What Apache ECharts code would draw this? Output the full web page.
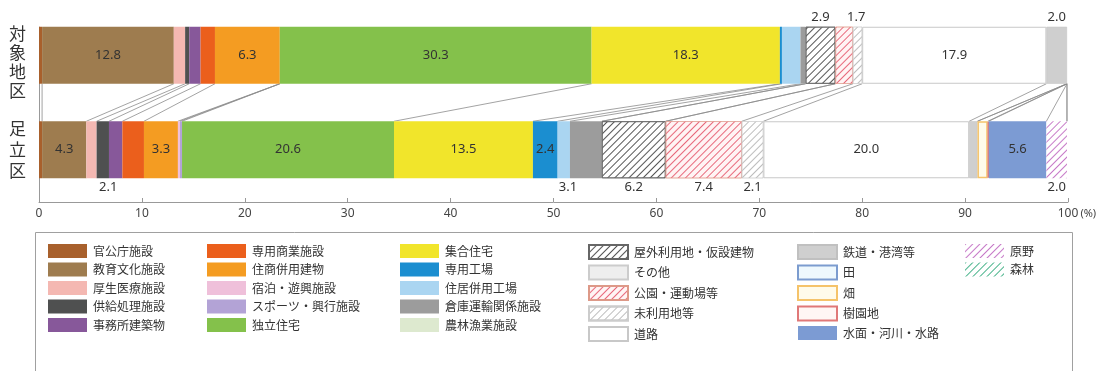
<!DOCTYPE html>
<html>
<head>
<meta charset="utf-8">
<script src="https://cdn.jsdelivr.net/npm/echarts@6.0.0/dist/echarts.min.js"></script>
<style>
html,body{margin:0;padding:0;background:#fff;}
#c{width:1100px;height:371px;}
</style>
</head>
<body>
<div id="c"></div>
<script>
// ---- data ----
var regions = ['足立区', '対象地区'];
var categories = ['官公庁施設','教育文化施設','厚生医療施設','供給処理施設','事務所建築物',
  '専用商業施設','住商併用建物','宿泊・遊興施設','スポーツ・興行施設','独立住宅',
  '集合住宅','専用工場','住居併用工場','倉庫運輸関係施設','農林漁業施設',
  '屋外利用地・仮設建物','その他','公園・運動場等','未利用地等','道路',
  '鉄道・港湾等','田','畑','樹園地','水面・河川・水路','原野','森林'];
var adachiValues = [0.3,4.3,1.0,1.2,1.3, 2.1,3.3,0.2,0.2,20.6, 13.5,2.4,1.2,3.1,0, 6.2,0,7.4,2.1,20.0, 0.8,0,1.0,0.1,5.6,2.0,0];
var targetValues = [0.3,12.8,1.1,0.4,1.1, 1.4,6.3,0,0,30.3, 18.3,0.2,1.8,0.5,0, 2.9,0,1.7,0.9,17.9, 2.0,0,0,0,0,0,0];
var tickLabels = ['0','10','20','30','40','50','60','70','80','90','100'];

// ---- styles ----
var FONT = '"Noto Sans","Noto Sans CJK JP",sans-serif';
var BARW = 57, HALF = BARW / 2;
function hatch(col) {
  return {color: col, symbol: 'rect', symbolSize: 1, dashArrayX: [1, 0], dashArrayY: [1, 3.4], rotation: -Math.PI / 4};
}
var styles = {
  '官公庁施設': {color: '#a8602c'},
  '教育文化施設': {color: '#9e7c4f'},
  '厚生医療施設': {color: '#f4b8b2'},
  '供給処理施設': {color: '#4f5050'},
  '事務所建築物': {color: '#87589a'},
  '専用商業施設': {color: '#eb5f1c'},
  '住商併用建物': {color: '#f49c22'},
  '宿泊・遊興施設': {color: '#efc0da'},
  'スポーツ・興行施設': {color: '#b3a3d6'},
  '独立住宅': {color: '#84c14b'},
  '集合住宅': {color: '#f1e52b'},
  '専用工場': {color: '#1b8ed0'},
  '住居併用工場': {color: '#aad5f1'},
  '倉庫運輸関係施設': {color: '#9c9c9c'},
  '農林漁業施設': {color: '#dde9cf'},
  '屋外利用地・仮設建物': {color: '#ffffff', decal: hatch('#555555'), borderColor: '#666', borderWidth: 0.8},
  'その他': {color: '#eeeeee', borderColor: '#ccc', borderWidth: 1},
  '公園・運動場等': {color: '#fff4f4', decal: hatch('#e8697b'), borderColor: '#d98', borderWidth: 0.5},
  '未利用地等': {color: '#ffffff', decal: hatch('#bdbdbd'), borderColor: '#ccc', borderWidth: 0.5},
  '道路': {color: '#ffffff', borderColor: '#c8c8c8', borderWidth: 1},
  '鉄道・港湾等': {color: '#cfcfcf', borderColor: '#c0c0c0', borderWidth: 0.5},
  '田': {color: '#eef8fd', borderColor: '#7c9ccf', borderWidth: 1.5},
  '畑': {color: '#fffbea', borderColor: '#f5c36a', borderWidth: 1.5},
  '樹園地': {color: '#fff6f4', borderColor: '#e07878', borderWidth: 1.5},
  '水面・河川・水路': {color: '#7c9bd3'},
  '原野': {color: '#ffffff', decal: hatch('#c77ac8')},
  '森林': {color: '#ffffff', decal: hatch('#47b38a')}
};
// label placement per [足立区, 対象地区]
var labelPos = {
  '教育文化施設': ['inside', 'inside'],
  '専用商業施設': ['bottomL', null],
  '住商併用建物': ['inside', 'inside'],
  '独立住宅': ['inside', 'inside'],
  '集合住宅': ['inside', 'inside'],
  '専用工場': ['inside', null],
  '倉庫運輸関係施設': ['bottomL2', null],
  '屋外利用地・仮設建物': ['bottom', 'top'],
  '公園・運動場等': ['bottom', 'topR'],
  '未利用地等': ['bottom', null],
  '道路': ['inside', 'inside'],
  '鉄道・港湾等': [null, 'top'],
  '水面・河川・水路': ['inside', null],
  '原野': ['bottom', null]
};
function makeLabel(p) {
  var base = {show: true, fontFamily: FONT, fontSize: 13, color: '#333', distance: 3,
    formatter: function (d) { return d.value.toFixed(1); }};
  if (!p) return {show: false};
  if (p === 'inside') { base.position = 'inside'; }
  else if (p === 'top') { base.position = 'top'; }
  else if (p === 'topR') { base.position = 'top'; base.offset = [12, 0]; }
  else if (p === 'bottom') { base.position = 'bottom'; }
  else if (p === 'bottomL') { base.position = 'bottom'; base.offset = [-25, 0]; }
  else if (p === 'bottomL2') { base.position = 'bottom'; base.offset = [-18, 0]; }
  return base;
}
function item(v, p) {
  var o = {value: v, label: makeLabel(p)};
  if (v === 0) o.itemStyle = {borderWidth: 0, opacity: 0};
  return o;
}

var series = categories.map(function (name, i) {
  var lp = labelPos[name] || [null, null];
  return {
    name: name, type: 'bar', stack: 'total', barWidth: BARW,
    itemStyle: styles[name],
    emphasis: {disabled: true},
    data: [item(adachiValues[i], lp[0]), item(targetValues[i], lp[1])]
  };
});

// connector lines between matching cumulative boundaries
var bounds = [];
var cb = 0, ct = 0;
for (var i = 0; i < categories.length; i++) {
  cb += adachiValues[i]; ct += targetValues[i];
  bounds.push([Math.round(cb * 100) / 100, Math.round(ct * 100) / 100, 0]);
}
series.push({
  type: 'custom', name: 'connectors', silent: true, z: 1,
  encode: {x: [0, 1], y: 2},
  renderItem: function (params, api) {
    var xb = api.value(0), xt = api.value(1);
    var pt = api.coord([xt, 1]);
    var pb = api.coord([xb, 0]);
    var children = [{type: 'line', shape: {x1: pt[0], y1: pt[1] + HALF, x2: pb[0], y2: pb[1] - HALF},
      style: {stroke: '#8c8c8c', lineWidth: 0.8}}];
    if (params.dataIndex === 0) {
      var p0 = api.coord([0, 1]);
      var cs = params.coordSys;
      children.push({type: 'line', shape: {x1: p0[0] + 0.5, y1: p0[1] - HALF, x2: p0[0] + 0.5, y2: cs.y + cs.height + 5},
        style: {stroke: '#999', lineWidth: 1}});
    }
    return {type: 'group', children: children};
  },
  data: bounds
});

var colLefts = [43, 202, 395, 583, 792, 960];
var legends = [];
for (var c = 0; c < 6; c++) {
  legends.push({
    orient: 'vertical', left: colLefts[c], top: 239, itemWidth: 39, itemHeight: 14, itemGap: 4.5,
    icon: 'rect', selectedMode: false,
    textStyle: {fontFamily: '"Noto Sans CJK JP",sans-serif', fontSize: 12, color: '#333', padding: [0, 0, 0, 1]},
    data: categories.slice(c * 5, c * 5 + 5)
  });
}

var chart = echarts.init(document.getElementById('c'), null, {renderer: 'canvas'});
chart.setOption({
  animation: false,
  backgroundColor: '#fff',
  grid: {left: 39, right: 32, top: 8, height: 189},
  xAxis: {
    type: 'value', min: 0, max: 100, interval: 10, offset: 5,
    axisLine: {show: true, lineStyle: {color: '#999'}},
    axisTick: {show: true, inside: true, length: 4, lineStyle: {color: '#999'}},
    splitLine: {show: false},
    axisLabel: {
      fontFamily: FONT, fontSize: 12, color: '#444', margin: 6,
      formatter: function (v) {
        var s = tickLabels[Math.round(v / 10)];
        return v === 100 ? '{p|}{a|' + s + '}{u|(%)}' : s;
      },
      rich: {p: {width: 20}, a: {fontFamily: FONT, fontSize: 12, color: '#444'}, u: {width: 20, fontFamily: FONT, fontSize: 11, color: '#444'}}
    }
  },
  yAxis: {
    type: 'category', data: regions,
    axisLine: {show: false}, axisTick: {show: false},
    axisLabel: {
      margin: 13,
      formatter: function (v) {
        return v === '対象地区' ? '{s|}\n{a|対\n象\n地\n区}' : '{b|足\n立\n区}';
      },
      rich: {
        s: {height: 14, lineHeight: 14},
        a: {fontFamily: '"Noto Sans CJK JP",sans-serif', fontSize: 17, lineHeight: 19, color: '#333'},
        b: {fontFamily: '"Noto Sans CJK JP",sans-serif', fontSize: 17, lineHeight: 21, color: '#333'}
      }
    }
  },
  legend: legends,
  graphic: [{type: 'rect', silent: true, shape: {x: 35.5, y: 232.5, width: 1037, height: 150},
    style: {fill: 'none', stroke: '#a0a0a0', lineWidth: 1}}],
  series: series
});
</script>
</body>
</html>
